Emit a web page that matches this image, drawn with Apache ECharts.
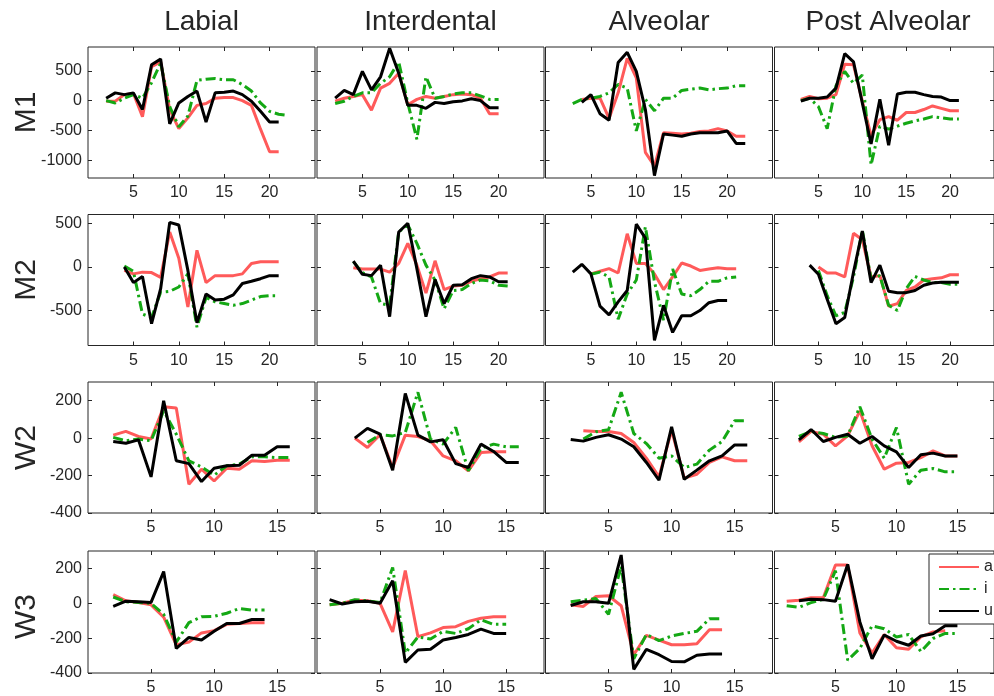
<!DOCTYPE html>
<html>
<head>
<meta charset="utf-8">
<script src="https://cdn.jsdelivr.net/npm/echarts@6/dist/echarts.min.js"></script>
<style>
html, body { margin: 0; padding: 0; background: #fff; }
#main { width: 994px; height: 696px; }
</style>
</head>
<body>
<div id="main"></div>
<script>
// panel labels
var rows = ['M1', 'M2', 'W2', 'W3'];
var cols = ['Labial', 'Interdental', 'Alveolar', 'Post Alveolar'];
var seriesNames = ['a', 'i', 'u'];

// axis ranges and ticks per row
var yMin = [-1300, -900, -400, -400];
var yMax = [900, 600, 300, 300];
var yTicks = [[-1000, -500, 0, 500], [-500, 0, 500], [-400, -200, 0, 200], [-400, -200, 0, 200]];
var xMax = [25, 25, 18, 18];
var xTicks = [[5, 10, 15, 20], [5, 10, 15, 20], [5, 10, 15], [5, 10, 15]];

// values, index 0 is x = 1 (null = no point)
// M1
var M1_Labial_a = [null, -10, -10, 100, 120, -270, 570, 650, -150, -470, -290, -80, -50, 40, 50, 50, 0, -80, -480, -860, -860];
var M1_Labial_i = [null, 0, -40, 40, 100, 40, 300, 630, -100, -440, -260, 340, 360, 370, 350, 350, 270, 160, -40, -180, -230, -250];
var M1_Labial_u = [null, 40, 130, 100, 130, -150, 600, 700, -390, -40, 70, 160, -360, 130, 140, 160, 100, -10, -180, -360, -360];
var M1_Interdental_a = [null, -10, 40, 70, 100, -160, 210, 290, 460, -70, 20, 70, 40, 70, 100, 110, 100, 40, -220, -220];
var M1_Interdental_i = [null, -50, -10, 70, 130, 130, 290, 400, 650, -40, -650, 400, 40, 70, 110, 130, 130, 80, 20, 20];
var M1_Interdental_u = [null, 40, 170, 100, 490, 180, 400, 880, 460, -80, -80, -130, -30, -50, -20, -5, 30, 0, -120, -120];
var M1_Alveolar_a = [null, null, null, 20, 40, 40, -300, 130, 710, 380, -870, -1100, -540, -550, -560, -550, -520, -510, -470, -510, -600, -600];
var M1_Alveolar_i = [null, null, -50, 20, 40, 70, 130, 270, 210, -510, 20, -170, 40, 40, 170, 190, 210, 180, 200, 210, 250, 250];
var M1_Alveolar_u = [null, null, null, -30, 100, -220, -330, 640, 810, 490, -150, -1260, -560, -580, -600, -560, -540, -540, -540, -510, -720, -720];
var M1_Post_a = [null, null, 20, 70, 30, 40, 100, 610, 600, -10, -590, -320, -270, -330, -200, -200, -150, -90, -130, -170, -170];
var M1_Post_i = [null, null, 0, 40, -100, -470, 250, 490, 290, 430, -1080, -430, -480, -430, -380, -340, -310, -270, -290, -310, -310];
var M1_Post_u = [null, null, -10, 40, 40, 60, 210, 790, 650, -40, -730, 20, -750, 110, 140, 140, 100, 70, 60, 0, 0];
// M2
var M2_Labial_a = [null, null, null, -40, -80, -60, -65, -120, 400, 100, -460, 190, -180, -100, -100, -100, -80, 40, 60, 60, 60];
var M2_Labial_i = [null, null, null, 10, -50, -540, -580, -290, -280, -230, -80, -690, -350, -400, -420, -440, -420, -380, -340, -330, -330];
var M2_Labial_u = [null, null, null, 0, -180, -110, -650, -250, 510, 480, -40, -640, -310, -380, -370, -320, -190, -165, -135, -100, -100];
var M2_Interdental_a = [null, null, null, -10, -25, -25, -25, -60, 40, 270, 20, -300, 70, -260, -220, -210, -165, -135, -115, -70, -70];
var M2_Interdental_i = [null, null, null, 60, -65, -115, -420, -440, 400, 480, 270, 20, -150, -480, -270, -260, -190, -150, -160, -210, -220];
var M2_Interdental_u = [null, null, null, 65, -85, -100, 20, -570, 400, 500, -20, -570, -145, -420, -210, -205, -135, -100, -115, -170, -170];
var M2_Alveolar_a = [null, null, null, null, -80, -50, -20, -70, 380, 40, 40, -80, -260, -115, 45, 10, -40, -25, -10, -20, -20];
var M2_Alveolar_i = [null, null, null, null, -85, -60, -115, -600, -310, -150, 460, -170, -610, -25, -310, -330, -260, -165, -165, -125, -115];
var M2_Alveolar_u = [null, null, -60, 30, -80, -450, -550, -400, -270, 490, 330, -840, -440, -750, -560, -560, -500, -410, -385, -385];
var M2_Post_a = [null, null, null, null, 0, -70, -70, -115, 385, 310, -115, -100, -450, -420, -270, -230, -150, -135, -125, -90, -90];
var M2_Post_i = [null, null, null, null, -40, -330, -560, -520, -115, 420, -135, -100, -440, -500, -250, -110, -150, -180, -180, -200, -200];
var M2_Post_u = [null, null, null, 20, -85, -370, -650, -580, -60, 410, -180, 20, -280, -295, -295, -270, -210, -185, -175, -175, -175];
// W2
var W2_Labial_a = [null, 16, 36, 9, -5, 168, 161, -246, -166, -229, -161, -166, -121, -125, -118, -118];
var W2_Labial_i = [null, 4, -14, -5, -14, 146, 21, -121, -154, -198, -148, -139, -100, -100, -104, -104];
var W2_Labial_u = [null, -18, -27, -9, -207, 200, -121, -136, -232, -161, -148, -145, -91, -91, -46, -46];
var W2_Interdental_a = [null, null, 0, -50, 18, -157, 16, 9, -14, -95, -121, -175, -77, -73, -73];
var W2_Interdental_i = [null, null, null, -23, 18, 12, 30, 245, -5, -32, 57, -175, -54, -32, -46, -46];
var W2_Interdental_u = [null, null, 0, 52, 21, -171, 239, 16, -20, -9, -136, -157, -32, -71, -130, -130];
var W2_Alveolar_a = [null, null, 39, 36, 36, 25, -23, -107, -207, 43, -214, -193, -130, -100, -121, -121];
var W2_Alveolar_i = [null, null, -5, 34, 45, 245, 25, -29, -107, -95, -157, -139, -64, -18, 93, 93];
var W2_Alveolar_u = [null, -7, -16, 4, 18, -5, -46, -130, -225, 61, -220, -171, -121, -95, -36, -36];
var W2_Post_a = [null, -20, 36, 21, -41, 12, 146, -41, -166, -134, -130, -104, -68, -95, -95];
var W2_Post_i = [null, 9, 36, 25, 4, 12, 168, -5, -107, 57, -246, -171, -162, -180, -180];
var W2_Post_u = [null, -9, 46, -18, 4, 21, -27, 9, -41, -73, -157, -89, -80, -95, -95];
// W3
var W3_Labial_a = [null, 50, 14, 4, -9, -80, -238, -223, -170, -157, -121, -116, -111, -111];
var W3_Labial_i = [null, 36, 9, 5, 0, -63, -223, -111, -77, -75, -57, -30, -39, -39];
var W3_Labial_u = [null, -18, 12, 9, 5, 182, -259, -196, -211, -161, -116, -116, -93, -93];
var W3_Interdental_a = [-9, 0, 18, 14, 0, -164, 188, -191, -170, -139, -134, -104, -86, -77, -77];
var W3_Interdental_i = [-9, 0, 21, 14, 4, 205, -286, -193, -205, -161, -173, -146, -95, -121, -121];
var W3_Interdental_u = [21, -4, 9, 12, 0, 129, -339, -268, -264, -211, -196, -179, -148, -173, -173];
var W3_Alveolar_a = [null, -9, -18, 39, 43, -14, -295, -184, -211, -238, -238, -232, -152, -152];
var W3_Alveolar_i = [null, 9, 18, 27, -63, 214, -318, -179, -214, -188, -173, -161, -89, -89];
var W3_Alveolar_u = [null, -13, 9, 9, 0, 277, -379, -264, -295, -334, -336, -298, -291, -291];
var W3_Post_a = [12, 18, 32, 32, 220, 220, -170, -286, -179, -255, -264, -193, -164, -157];
var W3_Post_i = [-14, -23, 4, 23, 187, -327, -259, -129, -146, -193, -179, -277, -202, -173, -173];
var W3_Post_u = [null, 14, 23, 21, 12, 223, -107, -318, -182, -218, -241, -188, -175, -129, -129];

// table [row][col] -> [a, i, u]
var table = [
    [[M1_Labial_a, M1_Labial_i, M1_Labial_u], [M1_Interdental_a, M1_Interdental_i, M1_Interdental_u],
     [M1_Alveolar_a, M1_Alveolar_i, M1_Alveolar_u], [M1_Post_a, M1_Post_i, M1_Post_u]],
    [[M2_Labial_a, M2_Labial_i, M2_Labial_u], [M2_Interdental_a, M2_Interdental_i, M2_Interdental_u],
     [M2_Alveolar_a, M2_Alveolar_i, M2_Alveolar_u], [M2_Post_a, M2_Post_i, M2_Post_u]],
    [[W2_Labial_a, W2_Labial_i, W2_Labial_u], [W2_Interdental_a, W2_Interdental_i, W2_Interdental_u],
     [W2_Alveolar_a, W2_Alveolar_i, W2_Alveolar_u], [W2_Post_a, W2_Post_i, W2_Post_u]],
    [[W3_Labial_a, W3_Labial_i, W3_Labial_u], [W3_Interdental_a, W3_Interdental_i, W3_Interdental_u],
     [W3_Alveolar_a, W3_Alveolar_i, W3_Alveolar_u], [W3_Post_a, W3_Post_i, W3_Post_u]]
];

var FONT = '"Liberation Sans", Arial, sans-serif';
var TXT = '#262626';
var colLeft = [88, 317, 545.5, 774.5];
var rowTop = [47, 214.5, 382, 551];
var panelW = 227, panelH = 131;
var lineColors = ['#ff5a5a', '#14a814', '#000000'];
var lineTypes = ['solid', [10, 4, 2.5, 4], 'solid'];

function toPoints(arr) {
    var pts = [];
    for (var i = 0; i < arr.length; i++) {
        if (arr[i] !== null) pts.push([i + 1, arr[i]]);
    }
    return pts;
}

function plainNum(v) {
    return String(v); // no thousands separator
}

var grids = [], xAxes = [], yAxes = [], series = [], graphics = [];

for (var ri = 0; ri < rows.length; ri++) {
    for (var ci = 0; ci < cols.length; ci++) {
        var g = grids.length;
        grids.push({
            left: colLeft[ci], top: rowTop[ri], width: panelW, height: panelH,
            show: true, borderColor: TXT, borderWidth: 1, backgroundColor: '#fff'
        });
        var tickStyle = { inside: true, length: 4, lineStyle: { color: TXT, width: 1 } };
        // bottom + top x axes
        xAxes.push({
            type: 'value', gridIndex: g, min: 0, max: xMax[ri],
            axisLine: { show: false, onZero: false },
            axisTick: Object.assign({ customValues: xTicks[ri] }, tickStyle),
            axisLabel: { customValues: xTicks[ri], margin: 7, fontSize: 16, color: TXT, fontFamily: FONT, formatter: plainNum },
            splitLine: { show: false }
        });
        xAxes.push({
            type: 'value', gridIndex: g, min: 0, max: xMax[ri], position: 'top',
            axisLine: { show: false, onZero: false },
            axisTick: Object.assign({ customValues: xTicks[ri] }, tickStyle),
            axisLabel: { show: false },
            splitLine: { show: false }
        });
        // left + right y axes
        yAxes.push({
            type: 'value', gridIndex: g, min: yMin[ri], max: yMax[ri],
            axisLine: { show: false, onZero: false },
            axisTick: Object.assign({ customValues: yTicks[ri] }, tickStyle),
            axisLabel: { show: ci === 0, customValues: yTicks[ri], margin: 6, fontSize: 16, color: TXT, fontFamily: FONT, formatter: plainNum },
            splitLine: { show: false }
        });
        yAxes.push({
            type: 'value', gridIndex: g, min: yMin[ri], max: yMax[ri], position: 'right',
            axisLine: { show: false, onZero: false },
            axisTick: Object.assign({ customValues: yTicks[ri] }, tickStyle),
            axisLabel: { show: false },
            splitLine: { show: false }
        });
        for (var si = 0; si < 3; si++) {
            series.push({
                name: seriesNames[si],
                type: 'line',
                xAxisIndex: 2 * g,
                yAxisIndex: 2 * g,
                data: toPoints(table[ri][ci][si]),
                symbol: 'none',
                lineStyle: { color: lineColors[si], width: 3, type: lineTypes[si] },
                itemStyle: { color: lineColors[si] },
                z: 2 + si
            });
        }
    }
}

// column titles
for (var c = 0; c < cols.length; c++) {
    graphics.push({
        type: 'text', x: colLeft[c] + panelW / 2, y: 22,
        style: { text: cols[c], font: '28px ' + FONT, fill: TXT, textAlign: 'center', textVerticalAlign: 'middle' }
    });
}
// row labels
for (var r = 0; r < rows.length; r++) {
    graphics.push({
        type: 'text', x: 27, y: rowTop[r] + panelH / 2, rotation: Math.PI / 2,
        style: { text: rows[r], font: '30px ' + FONT, fill: TXT, textAlign: 'center', textVerticalAlign: 'middle' }
    });
}

var option = {
    animation: false,
    backgroundColor: '#fff',
    textStyle: { fontFamily: FONT },
    grid: grids,
    xAxis: xAxes,
    yAxis: yAxes,
    legend: {
        data: seriesNames,
        orient: 'vertical',
        left: 929,
        top: 554,
        itemWidth: 40,
        itemHeight: 14,
        itemGap: 6,
        padding: [5, 8, 5, 9],
        backgroundColor: '#fff',
        borderColor: TXT,
        borderWidth: 1,
        borderRadius: 0,
        selectedMode: false,
        itemStyle: { opacity: 0 }, // hide the marker, keep only the line
        textStyle: { fontSize: 16, color: TXT, fontFamily: FONT }
    },
    graphic: graphics,
    series: series
};

var chart = echarts.init(document.getElementById('main'));
chart.setOption(option);
window.addEventListener('resize', function () {
    chart.resize();
});
</script>
</body>
</html>
